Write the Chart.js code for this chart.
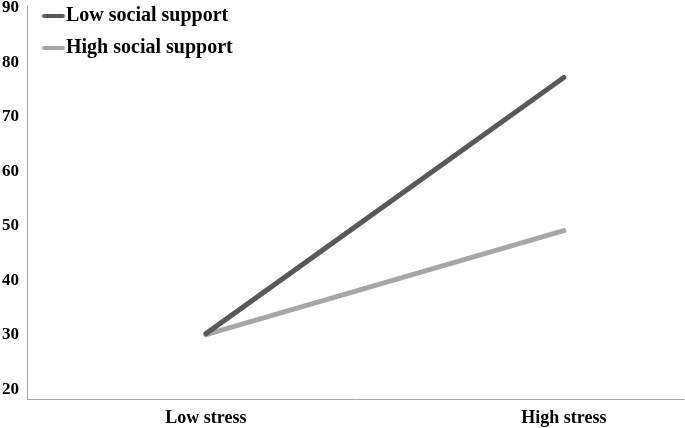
<!DOCTYPE html>
<html>
<head>
<meta charset="utf-8">
<script src="https://cdn.jsdelivr.net/npm/chart.js@4/dist/chart.umd.min.js"></script>
<style>
html,body{margin:0;padding:0;background:#fff;}
canvas{display:block;}
</style>
</head>
<body>
<canvas id="c" width="685" height="428"></canvas>
<script>
const categories = ['Low stress', 'High stress'];
const lowSupport = [30.2, 77.2];
const highSupport = [30.0, 49.1];
const yTicks = [20, 30, 40, 50, 60, 70, 80, 90];
const seriesNames = ['Low social support', 'High social support'];
const seriesColors = ['#595959', '#a6a6a6'];

const toPoints = arr => arr.map((v, i) => ({x: i + 1, y: v}));
const FONT = '"Liberation Serif", "Times New Roman", serif';

function legendSwatch(color) {
  const cv = document.createElement('canvas');
  cv.width = 46; cv.height = 8;
  const g = cv.getContext('2d');
  g.strokeStyle = color; g.lineWidth = 4; g.lineCap = 'round';
  g.beginPath(); g.moveTo(19.5, 4); g.lineTo(38.5, 4); g.stroke();
  return cv;
}

const legendShift = {
  id: 'legendShift',
  afterLayout(chart) {
    if (chart.legend) { chart.legend.top -= 6; chart.legend.bottom -= 6; }
  }
};

new Chart(document.getElementById('c'), {
  type: 'line',
  data: {
    datasets: [
      {label: seriesNames[0], data: toPoints(lowSupport), borderColor: seriesColors[0], backgroundColor: seriesColors[0],
       borderWidth: 5, borderCapStyle: 'round', pointRadius: 0, pointStyle: legendSwatch(seriesColors[0]), tension: 0},
      {label: seriesNames[1], data: toPoints(highSupport), borderColor: seriesColors[1], backgroundColor: seriesColors[1],
       borderWidth: 5, borderCapStyle: 'round', pointRadius: 0, pointStyle: legendSwatch(seriesColors[1]), tension: 0}
    ]
  },
  plugins: [legendShift],
  options: {
    responsive: false,
    animation: false,
    layout: {padding: {top: 5, right: 2, left: 0, bottom: 0}},
    plugins: {
      tooltip: {enabled: false},
      legend: {
        position: 'chartArea',
        align: 'start',
        labels: {
          usePointStyle: true,
          pointStyleWidth: 17,
          boxHeight: 16,
          padding: 12,
          color: '#000',
          font: {family: FONT, size: 20, weight: 'bold'}
        }
      }
    },
    scales: {
      x: {
        type: 'linear',
        min: 0.5, max: 2.333,
        afterBuildTicks: s => { s.ticks = categories.map((c, i) => ({value: i + 1})); },
        afterFit: s => { s.height = 29; s.paddingLeft = 0; s.paddingRight = 0; },
        grid: {display: false, drawTicks: false},
        border: {display: true, color: '#a6a6a6', width: 1},
        ticks: {
          padding: 9,
          color: '#000',
          font: {family: FONT, size: 18, weight: 'bold'},
          callback: v => categories[Math.round(v) - 1] || ''
        }
      },
      y: {
        type: 'linear',
        min: 18.2, max: 90.5,
        afterBuildTicks: s => { s.ticks = yTicks.map(v => ({value: v})); },
        afterFit: s => { s.width = 27; s.paddingTop = 0; s.paddingBottom = 0; },
        grid: {display: false, drawTicks: false},
        border: {display: true, color: '#a6a6a6', width: 1},
        ticks: {
          padding: 8,
          color: '#000',
          font: {family: FONT, size: 17, weight: 'bold'}
        }
      }
    }
  }
});
</script>
</body>
</html>
